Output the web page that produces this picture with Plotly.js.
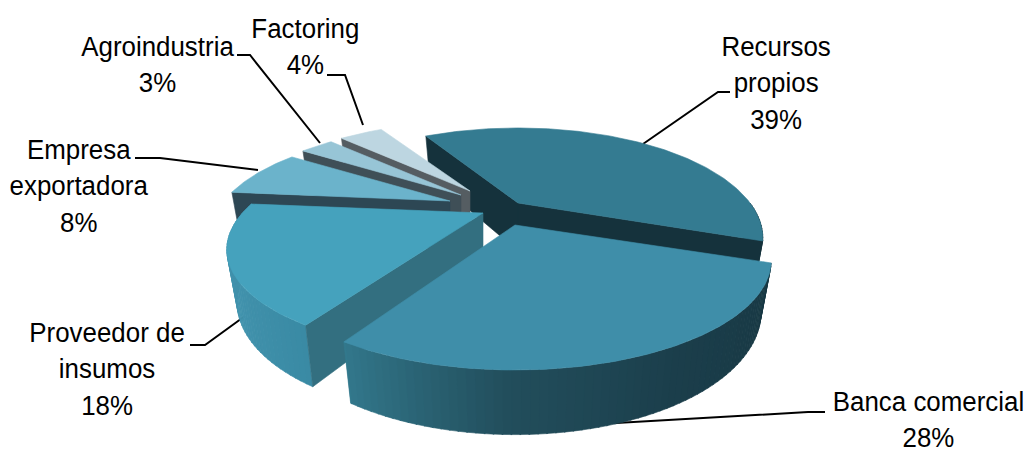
<!DOCTYPE html>
<html>
<head>
<meta charset="utf-8">
<script src="https://cdn.plot.ly/plotly-3.0.1.min.js"></script>
<style>html,body{margin:0;padding:0;background:#fff}</style>
</head>
<body>
<div id="chart" style="width:1027px;height:452px"></div>
<script>
// Data
var categories = ["Recursos propios", "Banca comercial", "Proveedor de insumos", "Empresa exportadora", "Agroindustria", "Factoring"];
var labelLines = [["Recursos", "propios"], ["Banca comercial"], ["Proveedor de", "insumos"], ["Empresa", "exportadora"], ["Agroindustria"], ["Factoring"]];
var shares = [39, 28, 18, 8, 3, 4];

// Styling per slice
var topColors = ["#347b91", "#3f8ea9", "#45a2bd", "#6bb3cb", "#97c5d6", "#bdd6e1"];
var edgeColors = ["#15323c", "#15323c", "#336f80", "#2d4754", "#3f4f57", "#555d62"];
var apexX = [518, 515, 483, 450, 461, 470];
var apexY = [203, 225, 213, 201, 195, 191];
var scaleX = [0.955, 1, 0.99, 0.93, 0.93, 0.92];
var scaleY = [1, 1, 0.96, 0.93, 0.93, 0.92];
var skew = [0, 0, 0.07, 0, 0, 0];
var labelX = [776, 928, 107, 79, 157, 305];
var labelY = [83, 419, 369, 186, 64, 46];
var leaders = [
  "M730,92 L718,92 L643,144",
  "M825,412 L808,412 L616,423",
  "M190,345 L205,345 L245,316",
  "M135,158 L160,158 L258,170",
  "M237,55 L250,55 L320,143",
  "M327,75 L345,75 L363,125"
];
var frontWallStops = {
  0: [[0, "#15323c"], [1, "#15323c"]],
  1: [[0, "#183843"], [0.4, "#1b3e4b"], [0.7, "#224e5c"], [1, "#33798d"]],
  2: [[0, "#3a8aa4"], [0.45, "#4394ae"], [1, "#3d8ba5"]]
};
var textSqueeze = 0.925;

// Perspective of the ground plane
var startAngle = -120.4, A = 243, B = 98.9, K = 0.318, H = 48, F = 0.96;
function rgb(h) { return [1, 3, 5].map(function (i) { return parseInt(h.substr(i, 2), 16); }); }
function mix(stops, t) {
  for (var i = 1; i < stops.length; i++) {
    if (t <= stops[i][0]) {
      var a = rgb(stops[i - 1][1]), b = rgb(stops[i][1]);
      var u = (t - stops[i - 1][0]) / (stops[i][0] - stops[i - 1][0] || 1);
      return "rgb(" + a.map(function (v, k) { return Math.round(v + (b[k] - v) * u); }).join(",") + ")";
    }
  }
  return stops[stops.length - 1][1];
}
function pt(i, deg, low) {
  var r = deg * Math.PI / 180, c = Math.cos(r), s = Math.sin(r), d = 1 - K * s;
  var Y = B * s / d * scaleY[i], X = A * c / d * scaleX[i] - skew[i] * Y;
  if (low) { return [apexX[i] + X * F, apexY[i] + Y * F + H / d]; }
  return [apexX[i] + X, apexY[i] + Y];
}
function poly(name, pts, color) {
  var xs = pts.map(function (p) { return p[0]; }), ys = pts.map(function (p) { return p[1]; });
  xs.push(xs[0]); ys.push(ys[0]);
  return { type: "scatter", mode: "lines", x: xs, y: ys, fill: "toself", fillcolor: color,
    line: { color: color, width: 0.6 }, name: name, hoverinfo: "name", showlegend: false };
}

var total = shares.reduce(function (a, b) { return a + b; }, 0);
var bounds = [], acc = startAngle;
shares.forEach(function (v) { bounds.push([acc, acc + v / total * 360]); acc += v / total * 360; });

function sliceTraces(i) {
  var out = [], a0 = bounds[i][0], a1 = bounds[i][1], name = categories[i];
  // outer curved wall, only for the slices that face the viewer
  if (frontWallStops[i]) {
    var from = i === 0 ? 0 : a0, step = 1.5;
    for (var a = from; a < a1; a += step) {
      var b = Math.min(a + step + 0.2, a1);
      out.push(poly(name, [pt(i, a), pt(i, b), pt(i, b, true), pt(i, a, true)], mix(frontWallStops[i], (a - a0) / (a1 - a0))));
    }
  }
  // radial walls
  if (i === 0) {
    out.push(poly(name, [[apexX[i], apexY[i]], pt(i, a1), pt(i, a1, true), [apexX[i], apexY[i] + H]], edgeColors[i]));
    out.push(poly(name, [[apexX[i], apexY[i]], pt(i, a0), pt(i, a0, true), [apexX[i], apexY[i] + H]], edgeColors[i]));
  } else if (i >= 2) {
    out.push(poly(name, [[apexX[i], apexY[i]], pt(i, a0), pt(i, a0, true), [apexX[i], apexY[i] + H]], edgeColors[i]));
  }
  // top face
  var face = [[apexX[i], apexY[i]]];
  for (var t = a0; t < a1; t += 1) { face.push(pt(i, t)); }
  face.push(pt(i, a1));
  out.push(poly(name, face, topColors[i]));
  return out;
}

var paintOrder = [0, 5, 4, 3, 2, 1];
var traces = [];
paintOrder.forEach(function (i) { traces = traces.concat(sliceTraces(i)); });

var annotations = categories.map(function (c, i) {
  return { xref: "x", yref: "y", x: labelX[i], y: labelY[i], xanchor: "center", yanchor: "middle", showarrow: false, align: "center",
    text: labelLines[i].concat([shares[i] + "%"]).join("<br>"),
    font: { family: "'Liberation Sans',Arial,sans-serif", size: 28, color: "#000" } };
});
var shapes = leaders.map(function (p) {
  return { type: "path", path: p, xref: "x", yref: "y", layer: "below", line: { color: "#000", width: 2 } };
});

Plotly.newPlot("chart", traces, {
  width: 1027, height: 452, margin: { l: 0, r: 0, t: 0, b: 0 },
  paper_bgcolor: "#fff", plot_bgcolor: "#fff", showlegend: false,
  xaxis: { range: [0, 1027], visible: false, fixedrange: true },
  yaxis: { range: [452, 0], visible: false, fixedrange: true },
  annotations: annotations, shapes: shapes
}, { displayModeBar: false, staticPlot: true }).then(function (gd) {
  // The reference's labels use a condensed face, so narrow the real text horizontally.
  gd.querySelectorAll(".annotation-text").forEach(function (el) {
    var box = el.getBBox(), cx = box.x + box.width / 2;
    el.setAttribute("transform", "translate(" + cx + ",0) scale(" + textSqueeze + ",1) translate(" + (-cx) + ",0)");
  });
});
</script>
</body>
</html>
